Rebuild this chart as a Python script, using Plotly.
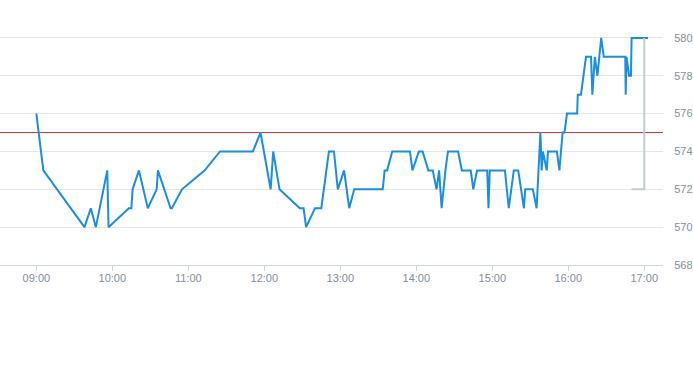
import plotly.graph_objects as go

DAY = "2024-01-02 "

times = [
    "09:00", "09:05:30", "09:38", "09:43", "09:47", "09:56", "09:57", "10:13", "10:15", "10:16",
    "10:21", "10:28", "10:35", "10:36", "10:46", "10:47", "10:55", "11:13", "11:25", "11:51",
    "11:57", "12:05", "12:07", "12:12", "12:28", "12:31", "12:33", "12:40", "12:45", "12:51",
    "12:55", "12:58", "13:03", "13:07", "13:11", "13:33:30", "13:35", "13:37", "13:41", "13:55",
    "13:57", "14:02", "14:05", "14:09:30", "14:13", "14:16", "14:18", "14:20", "14:23", "14:25",
    "14:33", "14:36", "14:43", "14:45", "14:48", "14:56", "14:57", "14:58", "15:10", "15:13",
    "15:17", "15:20:30", "15:25", "15:26", "15:32", "15:35", "15:38", "15:39", "15:40", "15:43",
    "15:44", "15:51", "15:53", "15:55:30", "15:57", "15:59", "16:07", "16:07:30", "16:10", "16:12",
    "16:14", "16:18", "16:19", "16:21", "16:23", "16:26", "16:28", "16:45", "16:45:20", "16:46",
    "16:48", "16:49:30", "16:50", "17:03",
]
prices = [
    576, 573, 570, 571, 570, 573, 570, 571, 571, 572,
    573, 571, 572, 573, 571, 571, 572, 573, 574, 574,
    575, 572, 574, 572, 571, 571, 570, 571, 571, 574,
    574, 572, 573, 571, 572, 572, 573, 573, 574, 574,
    573, 574, 574, 573, 573, 572, 573, 571, 573, 574,
    574, 573, 573, 572, 573, 573, 571, 573, 573, 571,
    573, 573, 571, 572, 572, 571, 575, 573, 574, 573,
    574, 574, 573, 575, 575, 576, 576, 577, 577, 578,
    579, 579, 577, 579, 578, 580, 579, 579, 577, 579,
    578, 578, 580, 580,
]

bracket_times = ["16:50", "17:00", "17:00"]
bracket_values = [572, 572, 580]

ref_level = 575
y_ticks = [568, 570, 572, 574, 576, 578, 580]
x_ticks = ["09:00", "10:00", "11:00", "12:00", "13:00", "14:00", "15:00", "16:00", "17:00"]

fig = go.Figure()
fig.add_trace(go.Scatter(
    x=[DAY + t for t in times], y=prices, mode="lines",
    line=dict(color="#1a8fdf", width=2), hoverinfo="skip", showlegend=False,
))
fig.add_trace(go.Scatter(
    x=[DAY + t for t in bracket_times], y=bracket_values, mode="lines",
    line=dict(color="#c3cbd6", width=2), hoverinfo="skip", showlegend=False,
))
fig.add_shape(type="line", xref="paper", x0=0, x1=1, yref="y", y0=ref_level, y1=ref_level,
              line=dict(color="#c83a3a", width=1), layer="below")

tick_font = dict(family="Liberation Sans, Arial, sans-serif", size=11, color="#86909d")

fig.update_layout(
    width=693, height=365,
    margin=dict(l=0, r=30, t=19, b=100),
    paper_bgcolor="white", plot_bgcolor="white",
    showlegend=False,
    xaxis=dict(
        type="date",
        range=[DAY + "08:31:18", DAY + "17:14:48"],
        tickvals=[DAY + t for t in x_ticks], ticktext=x_ticks,
        showgrid=False, zeroline=False,
        showline=True, linecolor="#ccd6eb", linewidth=1,
        ticks="outside", ticklen=5, tickcolor="#ccd6eb", tickwidth=1,
        ticklabelstandoff=-2,
        tickfont=tick_font,
    ),
    yaxis=dict(
        side="right", range=[568, 581],
        tickvals=y_ticks, ticktext=[str(v) for v in y_ticks],
        showgrid=True, gridcolor="#e6e6e6", gridwidth=1,
        zeroline=False, showline=False,
        ticks="outside", ticklen=8, tickcolor="rgba(0,0,0,0)",
        tickfont=tick_font,
    ),
)

fig.write_html(
    "out.html",
    config={"displayModeBar": False},
    post_script="document.body.style.margin='0';document.body.style.overflow='hidden';",
)
